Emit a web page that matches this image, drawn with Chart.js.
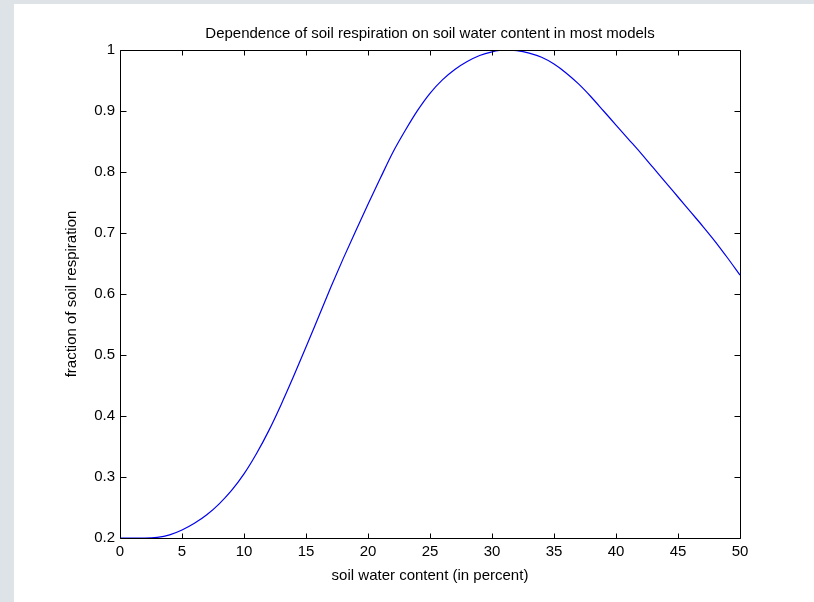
<!DOCTYPE html>
<html>
<head>
<meta charset="utf-8">
<script src="https://cdn.jsdelivr.net/npm/chart.js@4/dist/chart.umd.min.js"></script>
<style>
  html, body { margin: 0; padding: 0; background: #fff; }
  #wrap { width: 814px; height: 602px; }
</style>
</head>
<body>
<div id="wrap"><canvas id="grafico" width="814" height="602"></canvas></div>
<script>
// soil water content (percent) and fraction of soil respiration
const contenidoAgua = [0, 1, 2, 3, 4, 5, 6, 7, 8, 9, 10, 11, 12, 13, 14, 15, 16, 17, 18, 19, 20,
  21, 22, 23, 24, 25, 26, 27, 28, 29, 30, 31, 32, 33, 34, 35, 36, 37, 38, 39, 40,
  41, 42, 43, 44, 45, 46, 47, 48, 49, 50];
const respiracion = [0.2, 0.2, 0.2, 0.201, 0.205, 0.213, 0.224, 0.238, 0.256, 0.278, 0.305,
  0.338, 0.376, 0.419, 0.465, 0.513, 0.562, 0.611, 0.658, 0.703, 0.747,
  0.79, 0.832, 0.868, 0.901, 0.929, 0.951, 0.968, 0.981, 0.991, 0.997,
  1.0, 0.999, 0.995, 0.988, 0.977, 0.962, 0.944, 0.923, 0.9, 0.877,
  0.854, 0.831, 0.807, 0.783, 0.759, 0.735, 0.711, 0.686, 0.659, 0.631];

const titulo = 'Dependence of soil respiration on soil water content in most models';
const tituloX = 'soil water content (in percent)';
const tituloY = 'fraction of soil respiration';

const fuente = { family: '"Liberation Sans", Arial, sans-serif', size: 15 };

// fondo gris con recuadro blanco
const fondo = {
  id: 'fondo',
  beforeDraw(chart) {
    const ctx = chart.ctx;
    ctx.save();
    ctx.fillStyle = '#dde3e7';
    ctx.fillRect(0, 0, chart.width, chart.height);
    ctx.fillStyle = '#ffffff';
    ctx.fillRect(14, 4, chart.width - 14, chart.height - 4);
    ctx.restore();
  }
};

// caja con marcas hacia adentro en los cuatro lados
const caja = {
  id: 'caja',
  afterDraw(chart) {
    const { ctx, chartArea: a, scales } = chart;
    const L = Math.round(a.left) + 0.5, R = Math.round(a.right) + 0.5;
    const T = Math.round(a.top) + 0.5, B = Math.round(a.bottom) + 0.5;
    ctx.save();
    ctx.strokeStyle = '#000';
    ctx.lineWidth = 1;
    ctx.beginPath();
    ctx.rect(L, T, R - L, B - T);
    scales.x.ticks.forEach(t => {
      const px = Math.round(scales.x.getPixelForValue(t.value)) + 0.5;
      ctx.moveTo(px, B); ctx.lineTo(px, B - 5);
      ctx.moveTo(px, T); ctx.lineTo(px, T + 5);
    });
    scales.y.ticks.forEach(t => {
      const py = Math.round(scales.y.getPixelForValue(t.value)) + 0.5;
      ctx.moveTo(L, py); ctx.lineTo(L + 6, py);
      ctx.moveTo(R, py); ctx.lineTo(R - 6, py);
    });
    ctx.stroke();
    ctx.restore();
  }
};

new Chart(document.getElementById('grafico'), {
  type: 'line',
  data: {
    labels: contenidoAgua,
    datasets: [{
      data: contenidoAgua.map((x, i) => ({ x: x, y: respiracion[i] })),
      borderColor: '#0000ee',
      borderWidth: 1.2,
      pointRadius: 0,
      cubicInterpolationMode: 'monotone',
      fill: false
    }]
  },
  options: {
    responsive: false,
    animation: false,
    layout: { padding: { left: 60, right: 74, top: 0, bottom: 0 } },
    plugins: {
      legend: { display: false },
      tooltip: { enabled: false },
      title: {
        display: true,
        text: titulo,
        color: '#000',
        font: { ...fuente, weight: 'normal' },
        fullSize: false,
        padding: { top: 25, bottom: 7 }
      }
    },
    scales: {
      x: {
        type: 'linear',
        min: 0, max: 50,
        grid: { display: false, drawTicks: false },
        border: { display: false },
        ticks: { stepSize: 5, color: '#000', font: fuente, padding: 5, maxRotation: 0 },
        title: { display: true, text: tituloX, color: '#000', font: fuente, padding: { top: 0, bottom: 17 } },
        afterFit: s => { s.height = 64; }
      },
      y: {
        min: 0.2, max: 1,
        grid: { display: false, drawTicks: false },
        border: { display: false },
        ticks: {
          stepSize: 0.1, color: '#000', font: fuente, padding: 5,
          callback: v => String(Math.round(v * 10) / 10)
        },
        title: { display: true, text: tituloY, color: '#000', font: fuente, padding: { top: 3, bottom: 0 } },
        afterFit: s => { s.width = 60; }
      }
    }
  },
  plugins: [fondo, caja]
});
</script>
</body>
</html>
